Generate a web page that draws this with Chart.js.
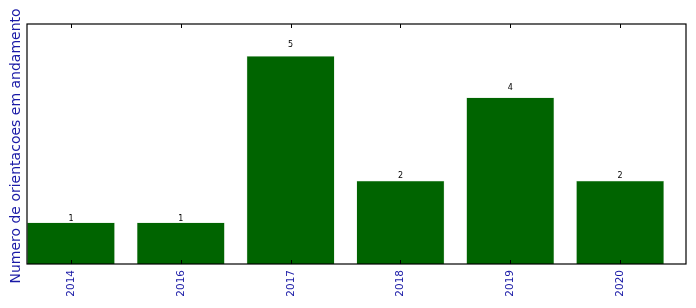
<!DOCTYPE html>
<html>
<head>
<meta charset="utf-8">
<script src="https://cdn.jsdelivr.net/npm/chart.js@4"></script>
<style>
  html, body { margin: 0; padding: 0; background: #fff; }
  #wrap { width: 696px; height: 308px; }
</style>
</head>
<body>
<div id="wrap"><canvas id="orientChart" width="696" height="308"></canvas></div>
<script>
// dados do grafico
const anos = ['2014', '2016', '2017', '2018', '2019', '2020'];
const orientacoes = [1, 1, 5, 2, 4, 2];
const tituloY = 'Numero de orientacoes em andamento';

const pontos = orientacoes.map((v, i) => ({ x: i, y: v }));

// desenha moldura, ticks, rotulos e valores (estilo matplotlib)
const estiloMpl = {
    id: 'estiloMpl',
    afterDatasetsDraw(chart) {
        const ctx = chart.ctx;
        const area = chart.chartArea;
        const sx = chart.scales.x;
        const sy = chart.scales.y;
        ctx.save();

        // valores acima das barras (altura * 1.05)
        ctx.fillStyle = '#000';
        ctx.font = '8px "DejaVu Sans"';
        ctx.textAlign = 'center';
        ctx.textBaseline = 'alphabetic';
        chart.getDatasetMeta(0).data.forEach((bar, i) => {
            ctx.fillText(String(orientacoes[i]), bar.x, sy.getPixelForValue(orientacoes[i] * 1.05) + 1);
        });

        // moldura
        ctx.strokeStyle = '#000';
        ctx.lineWidth = 1.2;
        ctx.strokeRect(area.left, area.top, area.right - area.left, area.bottom - area.top);

        // ticks e rotulos do eixo x
        anos.forEach((a, i) => {
            const px = Math.round(sx.getPixelForValue(i)) + 0.5;
            ctx.lineWidth = 1;
            ctx.beginPath();
            ctx.moveTo(px, area.bottom);
            ctx.lineTo(px, area.bottom - 4);
            ctx.moveTo(px, area.top);
            ctx.lineTo(px, area.top + 4);
            ctx.stroke();

            ctx.save();
            ctx.translate(px, area.bottom + 6);
            ctx.rotate(-Math.PI / 2);
            ctx.fillStyle = '#1a1aa6';
            ctx.font = '10.5px "DejaVu Sans"';
            ctx.textAlign = 'right';
            ctx.textBaseline = 'middle';
            ctx.fillText(a, 0, 0);
            ctx.restore();
        });

        // titulo do eixo y
        ctx.save();
        ctx.translate(16, (area.top + area.bottom) / 2 + 2);
        ctx.rotate(-Math.PI / 2);
        ctx.fillStyle = '#1a1aa6';
        ctx.font = '14px "DejaVu Sans"';
        ctx.textAlign = 'center';
        ctx.textBaseline = 'middle';
        ctx.fillText(tituloY, 0, 0);
        ctx.restore();

        ctx.restore();
    }
};

const ctx = document.getElementById('orientChart').getContext('2d');
const orientChart = new Chart(ctx, {
    type: 'bar',
    data: {
        datasets: [{
            data: pontos,
            backgroundColor: '#006400',
            borderColor: '#b8d4b8',
            borderWidth: 0.5,
            barPercentage: 0.8,
            categoryPercentage: 1.0,
        }],
    },
    options: {
        responsive: false,
        animation: false,
        layout: { padding: { left: 27, right: 10, top: 24, bottom: 44 } },
        plugins: { legend: { display: false }, tooltip: { enabled: false } },
        scales: {
            x: {
                type: 'linear', min: -0.4, max: 5.6, display: false, offset: false,
                // um tick por categoria para a largura das barras
                afterBuildTicks: (scale) => { scale.ticks = anos.map((_, i) => ({ value: i })); },
            },
            y: { min: 0, max: 5.77, display: false },
        },
    },
    plugins: [estiloMpl],
});
</script>
</body>
</html>
